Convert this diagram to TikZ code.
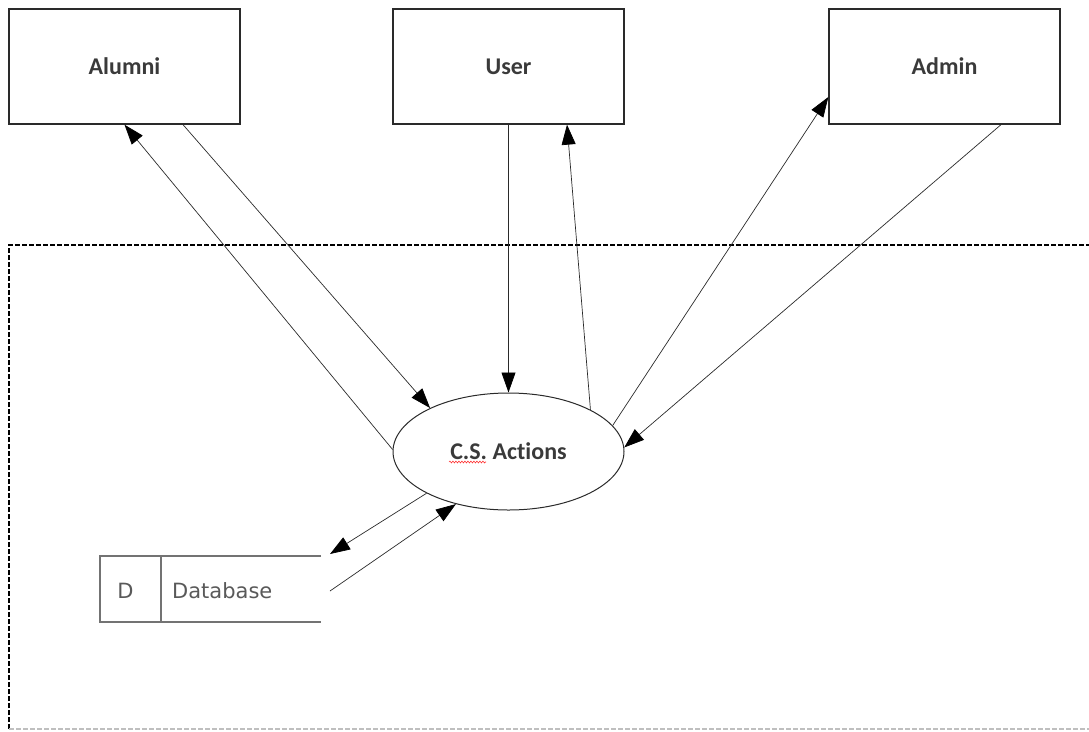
\documentclass[tikz,border=0pt]{standalone}
\usepackage{fontspec}
\setmainfont{Carlito}[Ligatures=NoCommon]
\newfontfamily\dbfont{DejaVu Sans}
\usetikzlibrary{arrows.meta,shapes.geometric,decorations.pathmorphing}
\definecolor{textgray}{HTML}{3A3A3A}
\definecolor{edgegray}{HTML}{2A2A2A}
\tikzset{
  entity/.style={draw=edgegray, line width=1.3pt, minimum width=231pt, minimum height=115pt,
    inner sep=0pt, font=\bfseries\fontsize{24}{28}\selectfont, text=textgray},
  process/.style={ellipse, draw=edgegray, line width=1pt, minimum width=231pt, minimum height=117pt,
    inner sep=0pt, font=\bfseries\fontsize{24}{28}\selectfont, text=textgray},
  flow/.style={draw=edgegray, line width=0.7pt,
    -{Triangle[length=20pt,width=14pt,color=black]}},
  boundary/.style={dash pattern=on 5pt off 2pt, line width=1.2pt},
  storetext/.style={font=\dbfont\fontsize{21}{25}\selectfont, text=black!65, inner sep=0pt}
}
\begin{document}
\begin{tikzpicture}[x=1pt,y=-1pt]
\useasboundingbox (0,0) rectangle (1089,731);
% system boundary
\draw[boundary] (9,729) -- (9,245) -- (1095,245);
\draw[boundary, draw=black!25] (9,729) -- (1095,729);
% external entities
\node[entity] (alumni) at (124.5,66.5) {Alumni};
\node[entity] (user) at (508.5,66.5) {User};
\node[entity] (admin) at (944.5,66.5) {Admin};
% central process
\node[process] (proc) at (508.5,451.5) {C.S.\ Actions};
\draw[red!80, line width=0.6pt, decorate, decoration={snake, amplitude=0.9pt, segment length=3pt}]
  (449,462) -- (486,462);
% data store
\coordinate (dbTL) at (100,556);
\coordinate (dbTR) at (321,556);
\coordinate (dbBL) at (100,622);
\coordinate (dbBR) at (321,622);
\draw[draw=black!55, line width=1.2pt] (dbTR) -- (dbTL) -- (dbBL) -- (dbBR);
\draw[draw=black!55, line width=1.2pt] (161,556) -- (161,622);
\node[storetext] (dbid) at (125.5,591) {D};
\node[storetext, anchor=west] (dbname) at (172,591) {Database};
\coordinate (dbin) at (330,554);
\coordinate (dbout) at (330,591);
% data flows
\draw[flow] ([xshift=58.5pt]alumni.south) -- (proc.151.6);
\draw[flow] (proc.179) -- (alumni.south);
\draw[flow] (user.south) -- (proc.north);
\draw[flow] (proc.27.3) -- ([xshift=58.5pt]user.south);
\draw[flow] (proc.14.9) -- ([yshift=-30.5pt]admin.west);
\draw[flow] ([xshift=56.5pt]admin.south) -- (proc.2.2);
\draw[flow] (proc.207) -- (dbin);
\draw[flow] (dbout) -- (proc.225);
\end{tikzpicture}
\end{document}
